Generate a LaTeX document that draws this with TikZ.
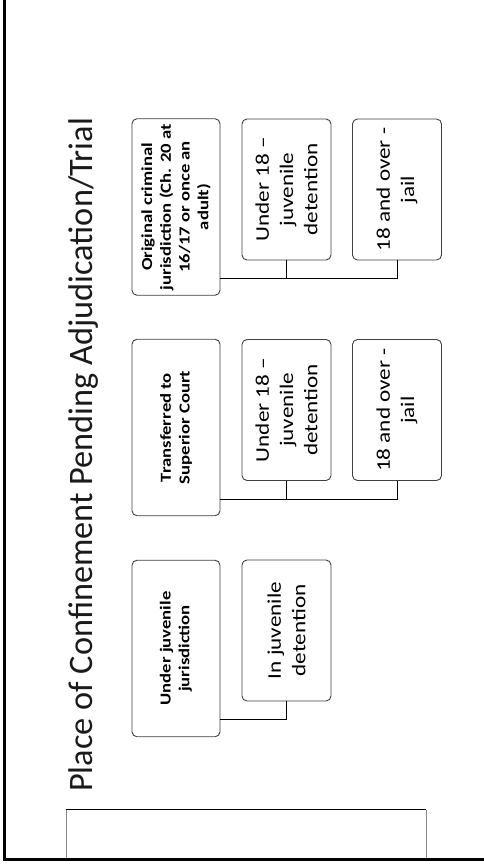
\documentclass[tikz,border=0pt]{standalone}
\usepackage{fontspec}
\setmainfont{Carlito}
\newfontfamily\hdrfam[FakeStretch=1.22]{Carlito}
\newfontfamily\kidfam[FakeStretch=1.2]{Carlito}
\definecolor{boxgray}{HTML}{404040}
\definecolor{sidegray}{HTML}{8A8A8A}
\definecolor{titlecol}{HTML}{1A1A1A}
\tikzset{
  box/.style={draw=boxgray, line width=0.9pt, rounded corners=5pt, rotate=90,
    inner sep=0pt, align=center, anchor=center, fill=white},
  hdr/.style={box, minimum width=176.5pt, minimum height=88pt,
    font=\hdrfam\bfseries\fontsize{15.3}{18.7}\selectfont},
  kid/.style={box, minimum width=141pt, minimum height=89pt,
    font=\kidfam\fontsize{19.3}{24.3}\selectfont},
  link/.style={draw=black, line width=0.8pt}
}
\begin{document}
\begin{tikzpicture}[x=1pt,y=-1pt]
\useasboundingbox (0,0) rectangle (484,867);
\fill[white] (0,0) rectangle (484,867);
% slide frame
\draw[line width=3pt, line join=miter] (4,0) -- (4,859.5) -- (484,859.5);
% footer box
\draw[sidegray, line width=0.9pt] (66,858) -- (66,809.5);
\draw[sidegray, line width=0.9pt] (426,858) -- (426,809.5);
\draw[black, line width=0.9pt] (66,809.5) -- (426,809.5);
% title
\node[rotate=90, anchor=base west, inner sep=0pt, text=titlecol,
  font=\fontsize{34.3}{40}\selectfont] (title) at (92,792)
  {Place of Confinement Pending Adjudication/Trial};
% group A
\node[hdr] (hA) at (176,207) {Original criminal\\jurisdiction (Ch. 20 at\\16/17 or once an\\adult)};
\node[kid] (kA2) at (286.5,189.5) {Under 18 –\\juvenile\\detention};
\node[kid] (kA3) at (397,189.5) {18 and over -\\jail};
% group B
\node[hdr] (hB) at (176,427.5) {Transferred to\\Superior Court};
\node[kid] (kB2) at (286.5,410) {Under 18 –\\juvenile\\detention};
\node[kid] (kB3) at (397,410) {18 and over -\\jail};
% group C
\node[hdr] (hC) at (176,648.5) {Under juvenile\\jurisdiction};
\node[kid] (kC2) at (286.5,630.5) {In juvenile\\detention};
% connectors
\coordinate (jA) at ([yshift=-18pt]kA3.west);
\draw[link] (kA3.west) -- (jA) -- (jA -| hA.south);
\draw[link] (kA2.west) -- (kA2.west |- jA);
\coordinate (jB) at ([yshift=-18pt]kB3.west);
\draw[link] (kB3.west) -- (jB) -- (jB -| hB.south);
\draw[link] (kB2.west) -- (kB2.west |- jB);
\coordinate (jC) at ([yshift=-18pt]kC2.west);
\draw[link] (kC2.west) -- (jC) -- (jC -| hC.south);
\end{tikzpicture}
\end{document}
